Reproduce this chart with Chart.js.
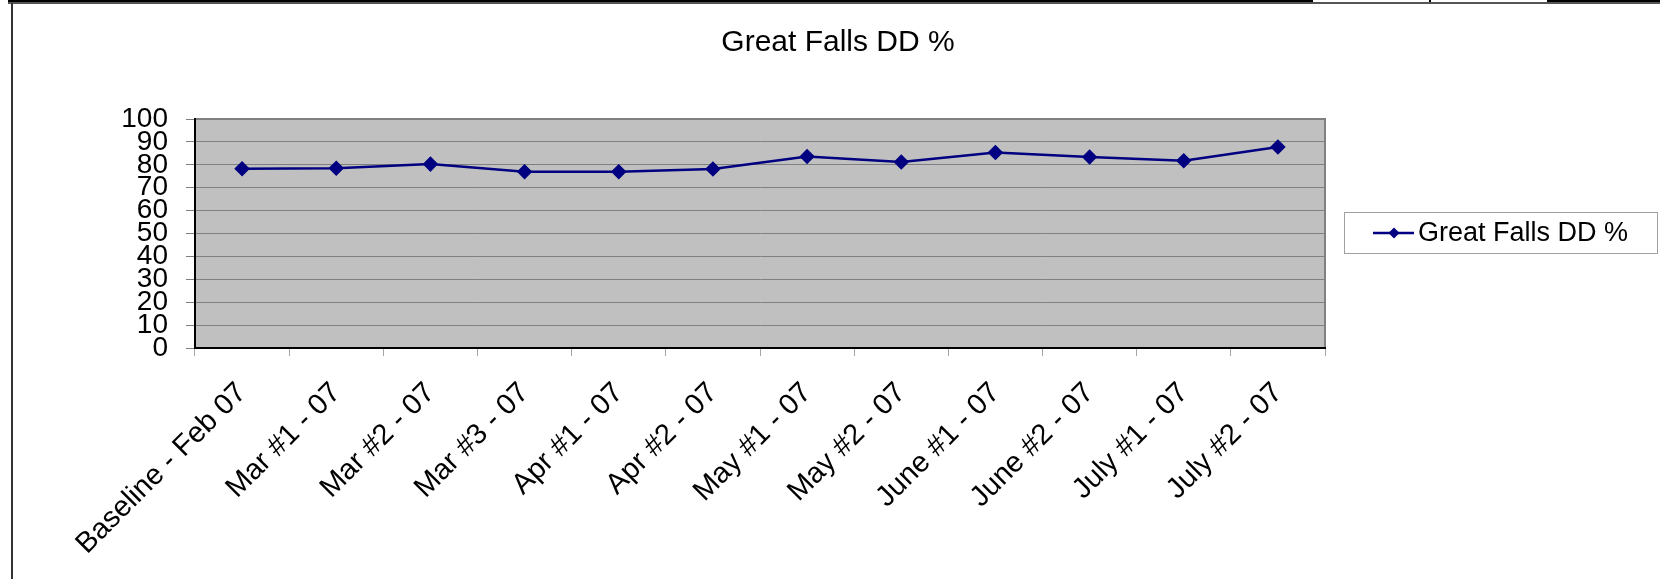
<!DOCTYPE html>
<html>
<head>
<meta charset="utf-8">
<script src="https://cdn.jsdelivr.net/npm/chart.js@4/dist/chart.umd.min.js"></script>
<style>
    body { margin: 0; background: #fff; }
    #wrap { position: absolute; left: 0; top: 0; width: 1660px; height: 579px; }
    .edge { position: absolute; }
</style>
</head>
<body>
<div id="wrap"><canvas id="ddChart"></canvas></div>
<!-- sheet borders around the chart -->
<div class="edge" style="left:8px;top:0;width:1652px;height:2px;background:#000"></div>
<div class="edge" style="left:1313px;top:0;width:116px;height:2px;background:#fff"></div>
<div class="edge" style="left:1431px;top:0;width:116px;height:2px;background:#fff"></div>
<div class="edge" style="left:8px;top:2px;width:1652px;height:2px;background:#555"></div>
<div class="edge" style="left:11px;top:3px;width:2px;height:576px;background:#333"></div>
<script>
    const categories = ['Baseline - Feb 07', 'Mar #1 - 07', 'Mar #2 - 07', 'Mar #3 - 07', 'Apr #1 - 07', 'Apr #2 - 07',
        'May #1 - 07', 'May #2 - 07', 'June #1 - 07', 'June #2 - 07', 'July #1 - 07', 'July #2 - 07'];
    const ddPercent = [78.3, 78.5, 80.3, 77.0, 77.0, 78.2, 83.6, 81.2, 85.4, 83.4, 81.8, 87.8];
    const yTicks = [0, 10, 20, 30, 40, 50, 60, 70, 80, 90, 100];

    const FONT = "'Liberation Sans', Arial, sans-serif";
    const NAVY = '#000080';

    // grey plot area with its frame
    const plotBackground = {
        id: 'plotBackground',
        beforeDraw(chart) {
            const { ctx, chartArea: a } = chart;
            ctx.save();
            ctx.fillStyle = '#c0c0c0';
            ctx.fillRect(a.left, a.top, a.right - a.left, a.bottom - a.top);
            ctx.strokeStyle = '#808080';
            ctx.lineWidth = 2;
            ctx.strokeRect(a.left, a.top, a.right - a.left, a.bottom - a.top);
            ctx.restore();
        }
    };

    // title and legend drawn at their spots in the sheet
    const titleAndLegend = {
        id: 'titleAndLegend',
        afterDraw(chart) {
            const ctx = chart.ctx;
            const ds = chart.data.datasets[0];
            ctx.save();
            ctx.fillStyle = '#000';
            ctx.textAlign = 'center';
            ctx.textBaseline = 'middle';
            ctx.font = '30px ' + FONT;
            ctx.fillText(ds.label, 838, 43);

            ctx.strokeStyle = '#a0a0a0';
            ctx.lineWidth = 1;
            ctx.strokeRect(1344.5, 212.5, 313, 41);
            ctx.strokeStyle = NAVY;
            ctx.lineWidth = 2.5;
            ctx.beginPath();
            ctx.moveTo(1373, 233);
            ctx.lineTo(1414, 233);
            ctx.stroke();
            ctx.fillStyle = NAVY;
            ctx.beginPath();
            ctx.moveTo(1394, 227.5);
            ctx.lineTo(1399.5, 233);
            ctx.lineTo(1394, 238.5);
            ctx.lineTo(1388.5, 233);
            ctx.closePath();
            ctx.fill();
            ctx.fillStyle = '#000';
            ctx.textAlign = 'left';
            ctx.font = '27px ' + FONT;
            ctx.fillText(ds.label, 1418, 234);
            ctx.restore();
        }
    };

    new Chart(document.getElementById('ddChart'), {
        type: 'line',
        data: {
            labels: categories,
            datasets: [{
                label: 'Great Falls DD %',
                data: ddPercent,
                borderColor: NAVY,
                backgroundColor: NAVY,
                borderWidth: 2.5,
                pointStyle: 'rectRot',
                pointRadius: 6,
                pointHoverRadius: 6,
                tension: 0
            }]
        },
        options: {
            responsive: true,
            maintainAspectRatio: false,
            animation: false,
            layout: { padding: { left: 115, right: 335, top: 119, bottom: 0 } },
            plugins: {
                legend: { display: false },
                title: { display: false },
                tooltip: { enabled: false }
            },
            scales: {
                x: {
                    offset: true,
                    afterFit: s => { s.height = 231; },
                    grid: { offset: true, drawOnChartArea: false, color: '#a6a6a6', tickLength: 8 },
                    border: { color: '#000', width: 2 },
                    ticks: {
                        color: '#000',
                        font: { family: FONT, size: 29 },
                        minRotation: 45,
                        maxRotation: 45,
                        autoSkip: false,
                        padding: 20
                    }
                },
                y: {
                    min: 0,
                    max: 100,
                    afterFit: s => { s.width = 80; },
                    afterBuildTicks: s => { s.ticks = yTicks.map(v => ({ value: v })); },
                    grid: { color: '#808080', tickLength: 9 },
                    border: { color: '#000', width: 2 },
                    ticks: {
                        color: '#000',
                        font: { family: FONT, size: 28, lineHeight: 1 },
                        autoSkip: false,
                        padding: 18
                    }
                }
            }
        },
        plugins: [plotBackground, titleAndLegend]
    });
</script>
</body>
</html>
